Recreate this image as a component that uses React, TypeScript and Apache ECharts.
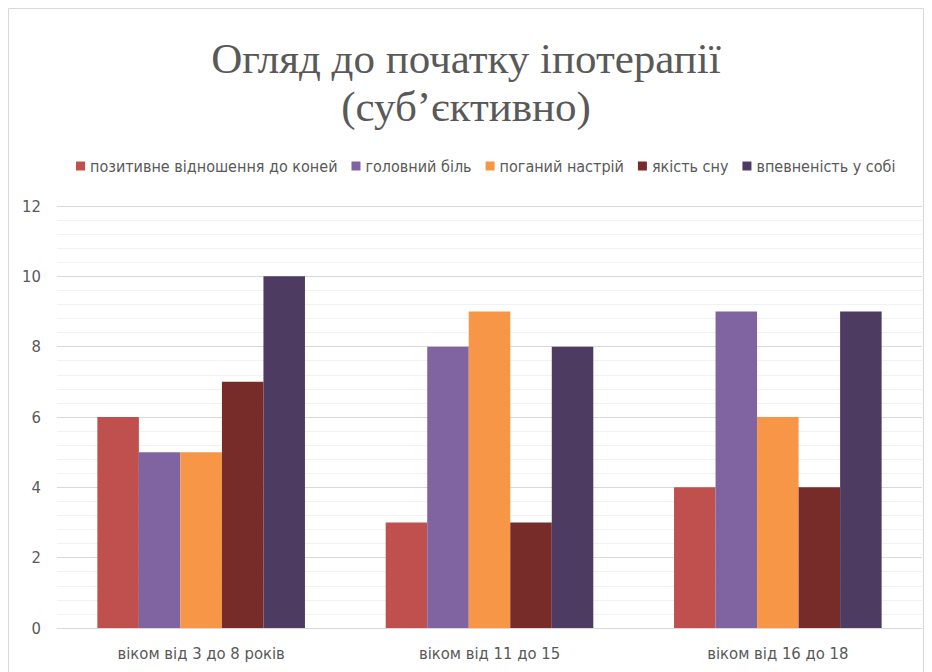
import React, { useEffect, useRef } from "react";
import * as echarts from "echarts";

const categories = ["віком від 3 до 8 років", "віком від 11 до 15", "віком від 16 до 18"];
const seriesNames = ["позитивне відношення до коней", "головний біль", "поганий настрій", "якість сну", "впевненість у собі"];
const seriesColors = ["#C0504D", "#8064A2", "#F79646", "#772C2A", "#4D3B62"];
const positiveAttitude = [6, 3, 4];
const headache = [5, 8, 9];
const badMood = [5, 9, 6];
const sleepQuality = [7, 3, 4];
const selfConfidence = [10, 8, 9];
const seriesValues = [positiveAttitude, headache, badMood, sleepQuality, selfConfidence];

const FONT = "'Liberation Sans Narrow', 'DejaVu Sans Condensed', 'Open Sans', sans-serif";
const TITLE_FONT = "'Liberation Serif', 'DejaVu Serif', serif";

export default function App() {
  const ref = useRef<HTMLDivElement>(null);
  useEffect(() => {
    if (!ref.current) return;
    const chart = echarts.init(ref.current, undefined, { renderer: "svg" });
    chart.setOption({
      animation: false,
      backgroundColor: "#ffffff",
      title: {
        text: "Огляд до початку іпотерапії\n(суб’єктивно)",
        left: "center",
        top: 29,
        textStyle: { fontFamily: TITLE_FONT, fontSize: 43, fontWeight: "normal", color: "#595959", lineHeight: 48 },
      },
      legend: {
        top: 153,
        left: 71,
        itemWidth: 9,
        itemHeight: 9,
        itemGap: 14,
        icon: "rect",
        textStyle: { fontFamily: FONT, fontSize: 16, color: "#595959" },
        data: seriesNames,
      },
      graphic: [
        {
          type: "rect",
          shape: { x: 8.5, y: 8.5, width: 915, height: 700 },
          style: { fill: "none", stroke: "#d9d9d9", lineWidth: 1 },
          silent: true,
        },
      ],
      grid: { left: 57, right: 10, top: 206, bottom: 44 },
      xAxis: {
        type: "category",
        data: categories,
        axisLine: { lineStyle: { color: "#d9d9d9" } },
        axisTick: { show: false },
        axisLabel: { fontFamily: FONT, fontSize: 16.5, color: "#595959", margin: 17 },
      },
      yAxis: {
        type: "value",
        min: 0,
        max: 12,
        interval: 2,
        axisLine: { show: false },
        axisTick: { show: false },
        axisLabel: { fontFamily: FONT, fontSize: 16.5, color: "#595959", margin: 16 },
        splitLine: { lineStyle: { color: "#d9d9d9" } },
        minorTick: { show: false, splitNumber: 5 },
        minorSplitLine: { show: true, lineStyle: { color: "#f2f2f2" } },
      },
      series: seriesNames.map((name, i) => ({
        name,
        type: "bar",
        data: seriesValues[i],
        itemStyle: { color: seriesColors[i] },
        barGap: "0%",
        barCategoryGap: "28%",
      })),
    });
    return () => chart.dispose();
  }, []);
  return <div ref={ref} style={{ position: "absolute", left: 0, top: 0, width: 932, height: 672 }} />;
}
